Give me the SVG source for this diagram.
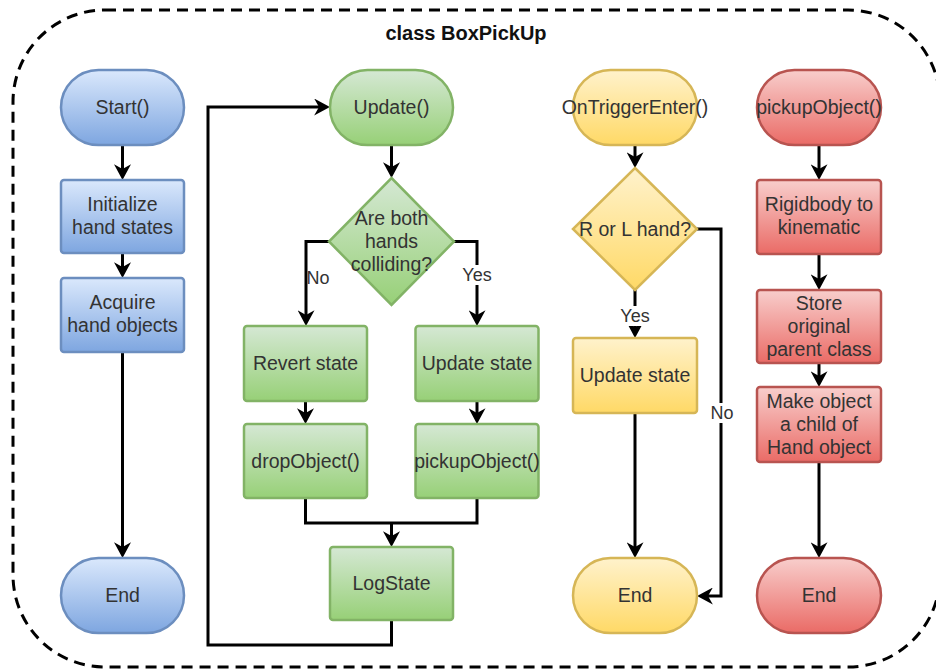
<svg xmlns="http://www.w3.org/2000/svg" width="936" height="671" viewBox="0 0 936 671">
  <defs>
    <linearGradient id="gBlue" x1="0" y1="0" x2="0" y2="1">
      <stop offset="0" stop-color="#dae8fc"/>
      <stop offset="1" stop-color="#7ea6e0"/>
    </linearGradient>
    <linearGradient id="gGreen" x1="0" y1="0" x2="0" y2="1">
      <stop offset="0" stop-color="#d5e8d4"/>
      <stop offset="1" stop-color="#97d077"/>
    </linearGradient>
    <linearGradient id="gYellow" x1="0" y1="0" x2="0" y2="1">
      <stop offset="0" stop-color="#fff2cc"/>
      <stop offset="1" stop-color="#ffd966"/>
    </linearGradient>
    <linearGradient id="gRed" x1="0" y1="0" x2="0" y2="1">
      <stop offset="0" stop-color="#f8cecc"/>
      <stop offset="1" stop-color="#ea6b66"/>
    </linearGradient>
    <marker id="arrow" markerUnits="userSpaceOnUse" markerWidth="17" markerHeight="17" viewBox="0 0 14 14" refX="4" refY="7" orient="auto">
      <path d="M0,0 L13,7 L0,14 L4,7 Z" fill="#000"/>
    </marker>
  </defs>
  <style>
    text { font-family: "Liberation Sans", Arial, Helvetica, sans-serif; font-size: 19.5px; fill: #333333; text-anchor: middle; }
    .title { font-weight: bold; font-size: 20px; fill: #111111; }
    .lbl { font-size: 18px; }
    .blue { fill: url(#gBlue); stroke: #6c8ebf; stroke-width: 2.5; }
    .green { fill: url(#gGreen); stroke: #82b366; stroke-width: 2.5; }
    .yellow { fill: url(#gYellow); stroke: #d6b656; stroke-width: 2.5; }
    .red { fill: url(#gRed); stroke: #b85450; stroke-width: 2.5; }
    .edge { fill: none; stroke: #000; stroke-width: 3; }
    .arr { marker-end: url(#arrow); }
    .bg { fill: #ffffff; }
  </style>

  <!-- class container -->
  <g id="container">
    <rect x="13" y="10" width="927" height="657" rx="92" ry="92" fill="none" stroke="#000" stroke-width="3" stroke-dasharray="11 7"/>
    <text class="title" x="466" y="40">class BoxPickUp</text>
  </g>

  <!-- connectors (arrow lines stop at the arrowhead notch; the tip lands on the target edge) -->
  <g id="connectors">
    <!-- Start() column -->
    <path class="edge arr" d="M122.5,145 V169"/>
    <path class="edge arr" d="M122.5,253 V267"/>
    <path class="edge arr" d="M122.5,352 V547"/>
    <!-- Update() column -->
    <path class="edge arr" d="M391.5,145 V167"/>
    <path class="edge arr" d="M329,241.5 H306 V315"/>
    <path class="edge arr" d="M454,241.5 H477 V315"/>
    <path class="edge arr" d="M305.5,401 V413"/>
    <path class="edge arr" d="M477,401 V413"/>
    <path class="edge" d="M305.5,498 V523 H477 V498"/>
    <path class="edge arr" d="M391.5,523 V536"/>
    <path class="edge arr" d="M391.5,620 V645 H208 V107 H319"/>
    <!-- OnTriggerEnter() column -->
    <path class="edge arr" d="M635,145 V157"/>
    <path class="edge arr" d="M635,290 V327"/>
    <path class="edge arr" d="M697,229 H721 V596 H708"/>
    <path class="edge arr" d="M635,413 V547"/>
    <!-- pickupObject() column -->
    <path class="edge arr" d="M819,145 V169"/>
    <path class="edge arr" d="M819,254 V279"/>
    <path class="edge arr" d="M819,363 V376"/>
    <path class="edge arr" d="M819,462 V547"/>
    <!-- branch labels -->
    <text class="lbl" x="318" y="284">No</text>
    <rect class="bg" x="462" y="265" width="30" height="20"/>
    <text class="lbl" x="477" y="281">Yes</text>
    <rect class="bg" x="620" y="306" width="30" height="20"/>
    <text class="lbl" x="635" y="322">Yes</text>
    <rect class="bg" x="709" y="403" width="26" height="20"/>
    <text class="lbl" x="722" y="419">No</text>
  </g>

  <!-- Start() flow -->
  <g id="start">
    <rect class="blue" x="61" y="70" width="123" height="75" rx="37.5"/>
    <text x="122.5" y="114">Start()</text>
  </g>
  <g id="init-states">
    <rect class="blue" x="61" y="180" width="123" height="73" rx="3"/>
    <text x="122.5" y="211">Initialize</text>
    <text x="122.5" y="234">hand states</text>
  </g>
  <g id="acquire-hands">
    <rect class="blue" x="61" y="278" width="123" height="74" rx="3"/>
    <text x="122.5" y="309">Acquire</text>
    <text x="122.5" y="332">hand objects</text>
  </g>
  <g id="start-end">
    <rect class="blue" x="61" y="558" width="123" height="75" rx="37.5"/>
    <text x="122.5" y="602">End</text>
  </g>

  <!-- Update() flow -->
  <g id="update">
    <rect class="green" x="330" y="70" width="123" height="75" rx="37.5"/>
    <text x="391.5" y="114">Update()</text>
  </g>
  <g id="both-colliding">
    <polygon class="green" points="391.5,178 454,241.5 391.5,305 329,241.5"/>
    <text x="391.5" y="225">Are both</text>
    <text x="391.5" y="248">hands</text>
    <text x="391.5" y="271">colliding?</text>
  </g>
  <g id="revert-state">
    <rect class="green" x="244" y="326" width="123" height="75" rx="3"/>
    <text x="305.5" y="370">Revert state</text>
  </g>
  <g id="update-state">
    <rect class="green" x="415.5" y="326" width="123" height="75" rx="3"/>
    <text x="477" y="370">Update state</text>
  </g>
  <g id="drop-object">
    <rect class="green" x="244" y="424" width="123" height="74" rx="3"/>
    <text x="305.5" y="468">dropObject()</text>
  </g>
  <g id="pickup-call">
    <rect class="green" x="415.5" y="424" width="123" height="74" rx="3"/>
    <text x="477" y="468">pickupObject()</text>
  </g>
  <g id="log-state">
    <rect class="green" x="330" y="547" width="123" height="73" rx="3"/>
    <text x="391.5" y="590">LogState</text>
  </g>

  <!-- OnTriggerEnter() flow -->
  <g id="trigger-enter">
    <rect class="yellow" x="573" y="70" width="124" height="75" rx="37.5"/>
    <text x="635" y="114">OnTriggerEnter()</text>
  </g>
  <g id="which-hand">
    <polygon class="yellow" points="635,168 697,229 635,290 573,229"/>
    <text x="635" y="236">R or L hand?</text>
  </g>
  <g id="trigger-update-state">
    <rect class="yellow" x="573" y="338" width="124" height="75" rx="3"/>
    <text x="635" y="382">Update state</text>
  </g>
  <g id="trigger-end">
    <rect class="yellow" x="573" y="558" width="124" height="75" rx="37.5"/>
    <text x="635" y="602">End</text>
  </g>

  <!-- pickupObject() flow -->
  <g id="pickup-object">
    <rect class="red" x="757" y="70" width="124" height="75" rx="37.5"/>
    <text x="819" y="114">pickupObject()</text>
  </g>
  <g id="kinematic">
    <rect class="red" x="757" y="180" width="124" height="74" rx="3"/>
    <text x="819" y="211">Rigidbody to</text>
    <text x="819" y="234">kinematic</text>
  </g>
  <g id="store-parent">
    <rect class="red" x="757" y="290" width="124" height="73" rx="3"/>
    <text x="819" y="310">Store</text>
    <text x="819" y="333">original</text>
    <text x="819" y="356">parent class</text>
  </g>
  <g id="make-child">
    <rect class="red" x="757" y="387" width="124" height="75" rx="3"/>
    <text x="819" y="408">Make object</text>
    <text x="819" y="431">a child of</text>
    <text x="819" y="454">Hand object</text>
  </g>
  <g id="pickup-end">
    <rect class="red" x="757" y="558" width="124" height="75" rx="37.5"/>
    <text x="819" y="602">End</text>
  </g>
</svg>
